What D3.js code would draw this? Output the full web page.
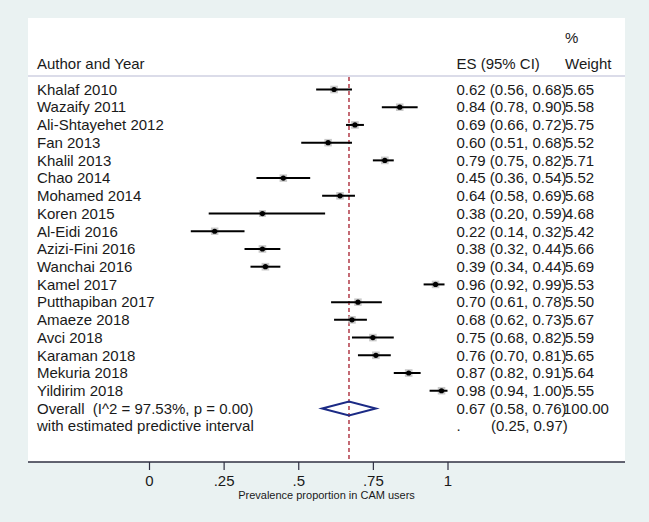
<!DOCTYPE html>
<html><head><meta charset="utf-8">
<script src="https://cdn.jsdelivr.net/npm/d3@7"></script>
<style>html,body{margin:0;padding:0;background:#eaf2f2;}svg{display:block;}text{white-space:pre;}</style>
</head><body>
<svg id="chart" width="649" height="522"></svg>
<script>
const studies = ["Khalaf 2010","Wazaify 2011","Ali-Shtayehet 2012","Fan 2013","Khalil 2013","Chao 2014","Mohamed 2014","Koren 2015","Al-Eidi 2016","Azizi-Fini 2016","Wanchai 2016","Kamel 2017","Putthapiban 2017","Amaeze 2018","Avci 2018","Karaman 2018","Mekuria 2018","Yildirim 2018"];
const es    = [0.62,0.84,0.69,0.60,0.79,0.45,0.64,0.38,0.22,0.38,0.39,0.96,0.70,0.68,0.75,0.76,0.87,0.98];
const lower = [0.56,0.78,0.66,0.51,0.75,0.36,0.58,0.20,0.14,0.32,0.34,0.92,0.61,0.62,0.68,0.70,0.82,0.94];
const upper = [0.68,0.90,0.72,0.68,0.82,0.54,0.69,0.59,0.32,0.44,0.44,0.99,0.78,0.73,0.82,0.81,0.91,1.00];
const weights = [5.65,5.58,5.75,5.52,5.71,5.52,5.68,4.68,5.42,5.66,5.69,5.53,5.50,5.67,5.59,5.65,5.64,5.55];
const overallLabel = "Overall  (I^2 = 97.53%, p = 0.00)";
const overallES = 0.67, overallLower = 0.58, overallUpper = 0.76, overallWeight = "100.00";
const predictiveLabel = "with estimated predictive interval";
const predictiveLower = 0.25, predictiveUpper = 0.97;
const tickValues = [0, 0.25, 0.5, 0.75, 1];
const tickLabels = ["0", ".25", ".5", ".75", "1"];
const xTitle = "Prevalence proportion in CAM users";

const svg = d3.select("#chart");
const W = 649, H = 522;
const font = "'Liberation Sans', Arial, sans-serif";
const fs = 15;
const f2 = d3.format(".2f");

// plot region
const px0 = 28, px1 = 625, py0 = 18, py1 = 462;
svg.append("rect").attr("width", W).attr("height", H).attr("fill", "#eaf2f2");
svg.append("rect").attr("x", px0).attr("y", py0).attr("width", px1 - px0).attr("height", py1 - py0).attr("fill", "#ffffff");

const x = d3.scaleLinear().domain([0, 1]).range([149, 447.5]);
const nRows = studies.length + 2;
const y = d3.scaleLinear().domain([0, nRows - 1]).range([89.5, 89.5 + 17.72 * (nRows - 1)]);
const boxSize = d3.scaleSqrt().domain([0, 100]).range([0, 32]);

const textX = 37, esX = 456.5, wX = 565;

// header
const hdr = svg.append("g").attr("font-family", font).attr("font-size", fs).attr("fill", "#1a1a1a");
hdr.append("text").attr("x", textX).attr("y", 64).attr("dy", "0.35em").text("Author and Year");
hdr.append("text").attr("x", esX).attr("y", 64).attr("dy", "0.35em").text("ES (95% CI)");
hdr.append("text").attr("x", wX).attr("y", 38).attr("dy", "0.35em").text("%");
hdr.append("text").attr("x", wX).attr("y", 64).attr("dy", "0.35em").text("Weight");
svg.append("line").attr("x1", px0).attr("x2", px1).attr("y1", 76).attr("y2", 76)
  .attr("stroke", "#cfd0e2").attr("stroke-width", 1.5);

// dashed overall line
svg.append("line").attr("x1", x(overallES)).attr("x2", x(overallES)).attr("y1", 77).attr("y2", py1)
  .attr("stroke", "#b23a48").attr("stroke-width", 1.5).attr("stroke-dasharray", "4,3");

// studies
const data = studies.map((s, i) => ({s, es: es[i], lo: lower[i], hi: upper[i], w: weights[i], i}));
const rows = svg.append("g");
rows.selectAll("rect.box").data(data).join("rect").attr("class", "box")
  .attr("x", d => x(d.es) - boxSize(d.w) / 2).attr("y", d => y(d.i) - boxSize(d.w) / 2)
  .attr("width", d => boxSize(d.w)).attr("height", d => boxSize(d.w))
  .attr("fill", "#bdbdbd").attr("opacity", 0.8);
rows.selectAll("line.ci").data(data).join("line").attr("class", "ci")
  .attr("x1", d => x(d.lo)).attr("x2", d => x(d.hi)).attr("y1", d => y(d.i)).attr("y2", d => y(d.i))
  .attr("stroke", "#000").attr("stroke-width", 2);
rows.selectAll("circle.pt").data(data).join("circle").attr("class", "pt")
  .attr("cx", d => x(d.es)).attr("cy", d => y(d.i)).attr("r", 2.6).attr("fill", "#000");

const txt = svg.append("g").attr("font-family", font).attr("font-size", fs).attr("fill", "#1a1a1a");
txt.selectAll("text.name").data(data).join("text").attr("class", "name")
  .attr("x", textX).attr("y", d => y(d.i)).attr("dy", "0.35em").text(d => d.s);
txt.selectAll("text.es").data(data).join("text").attr("class", "es")
  .attr("x", esX).attr("y", d => y(d.i)).attr("dy", "0.35em")
  .text(d => `${f2(d.es)} (${f2(d.lo)}, ${f2(d.hi)})`);
txt.selectAll("text.w").data(data).join("text").attr("class", "w")
  .attr("x", wX).attr("y", d => y(d.i)).attr("dy", "0.35em").text(d => f2(d.w));

// overall
const oi = studies.length;
txt.append("text").attr("x", textX).attr("y", y(oi)).attr("dy", "0.35em").text(overallLabel);
txt.append("text").attr("x", esX).attr("y", y(oi)).attr("dy", "0.35em")
  .text(`${f2(overallES)} (${f2(overallLower)}, ${f2(overallUpper)})`);
txt.append("text").attr("x", wX - 2).attr("y", y(oi)).attr("dy", "0.35em").text(overallWeight);
const dh = 7;
svg.append("path")
  .attr("d", `M${x(overallLower)},${y(oi)} L${x(overallES)},${y(oi) - dh} L${x(overallUpper)},${y(oi)} L${x(overallES)},${y(oi) + dh} Z`)
  .attr("fill", "none").attr("stroke", "#1b2a85").attr("stroke-width", 2);

// predictive interval row
const pi = oi + 1;
txt.append("text").attr("x", textX).attr("y", y(pi)).attr("dy", "0.35em").text(predictiveLabel);
txt.append("text").attr("x", esX).attr("y", y(pi)).attr("dy", "0.35em").text(".");
txt.append("text").attr("x", esX + 34.5).attr("y", y(pi)).attr("dy", "0.35em")
  .text(`(${f2(predictiveLower)}, ${f2(predictiveUpper)})`);

// axis
svg.append("line").attr("x1", px0).attr("x2", px1).attr("y1", py1).attr("y2", py1)
  .attr("stroke", "#2f3042").attr("stroke-width", 1.5);
const axis = d3.axisBottom(x).tickValues(tickValues).tickFormat((d, i) => tickLabels[i]).tickSize(8).tickPadding(5);
const ag = svg.append("g").attr("transform", `translate(0,${py1})`).call(axis);
ag.select(".domain").remove();
ag.selectAll(".tick line").attr("stroke", "#2f3042").attr("stroke-width", 1.2);
ag.selectAll(".tick text").attr("font-family", font).attr("font-size", fs).attr("fill", "#1a1a1a");
svg.append("text").attr("x", (px0 + px1) / 2).attr("y", 495).attr("dy", "0.35em")
  .attr("text-anchor", "middle").attr("font-family", font).attr("font-size", 11).attr("fill", "#1a1a1a")
  .text(xTitle);
</script>
</body></html>
